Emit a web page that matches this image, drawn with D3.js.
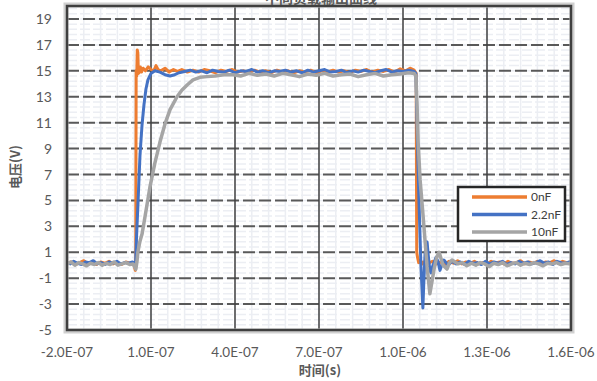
<!DOCTYPE html>
<html>
<head>
<meta charset="utf-8">
<script src="https://cdn.jsdelivr.net/npm/d3@7"></script>
<style>
body { margin: 0; background: #fff; }
</style>
</head>
<body>
<div id="chart"></div>
<script>
// time in ns, voltage in V
const xTicks = [-200, 100, 400, 700, 1000, 1300, 1600]
const yTicks = [-5, -3, -1, 1, 3, 5, 7, 9, 11, 13, 15, 17, 19]
const seriesNames = ["0nF", "2.2nF", "10nF"]

const t0 = [-200,-185,-170,-155,-140,-125,-110,-95,-80,-65,-50,-35,-20,-5,10,25,38,44,45.5,47,49,51,53,55,58,62,66,72,80,90,100,110,118,125,135,150,165,180,195,210,230,250,270,290,310,330,350,370,390,410,430,450,470,490,510,530,550,570,590,610,630,650,670,690,710,730,750,770,790,810,830,850,870,890,910,930,950,970,990,1010,1025,1040,1047,1049,1052,1056,1062,1070,1080,1090,1105,1120,1135,1150,1165,1180,1195,1210,1225,1240,1255,1270,1285,1300,1315,1330,1345,1360,1375,1390,1405,1420,1435,1450,1465,1480,1495,1510,1525,1540,1555,1570,1585,1600]
const v0 = [0.15,0.25,0.05,0.2,0.35,0.1,0.2,0.05,0.25,0.15,0.3,0.1,0.2,0.05,0.25,0.15,0.1,-0.4,0.3,15.0,14.6,16.6,16.4,14.8,14.9,15.3,14.9,15.2,15.0,15.3,15.1,15.0,15.4,15.1,15.0,15.2,14.9,15.1,14.95,15.1,14.9,15.05,14.9,15.1,15.0,14.85,15.05,14.95,15.1,14.9,15.0,14.85,15.05,14.9,15.0,14.85,15.05,14.9,15.0,14.85,15.0,14.9,15.05,14.85,15.0,14.9,15.05,14.9,15.0,14.85,15.05,14.95,15.1,14.9,15.05,14.95,15.1,14.9,15.15,15.0,15.2,15.05,14.8,1.0,0.6,0.2,0.4,0.1,0.35,0.15,0.3,0.1,0.25,0.05,0.3,0.15,0.35,0.1,0.25,0.15,0.3,0.1,0.2,0.05,0.3,0.15,0.25,0.1,0.3,0.15,0.2,0.35,0.1,0.25,0.15,0.3,0.1,0.25,0.2,0.35,0.15,0.3,0.2,0.25]

const t1 = [-200,-188,-176,-162,-148,-134,-120,-106,-92,-78,-64,-50,-36,-22,-8,6,20,34,45,48,53.6,60.7,67.9,75,82,89,100,114,132,150,168,185,200,220,240,260,280,300,320,340,360,380,400,420,440,460,480,500,520,540,560,580,600,620,640,660,680,700,720,740,760,780,800,820,840,860,880,900,920,940,960,980,1000,1020,1040,1046,1048,1051,1057,1064,1071,1074,1079,1086,1090,1096,1100,1107,1118,1125,1132,1140,1146,1161,1175,1190,1205,1220,1235,1250,1265,1280,1295,1310,1325,1340,1355,1370,1385,1400,1415,1430,1445,1460,1475,1490,1505,1520,1535,1550,1565,1580,1600]
const v1 = [0.2,0.1,0.3,0.15,0.05,0.25,0.2,0.35,0.1,0.2,0.05,0.25,0.15,0.3,0.1,0.2,0.15,0.25,0.1,2.0,4.8,8.5,10.8,12.4,13.6,14.3,14.8,15.0,14.9,14.7,14.6,14.7,14.85,14.95,15.05,14.9,15.0,14.85,15.05,14.95,14.9,15.05,14.85,15.0,14.95,15.1,14.9,15.0,14.85,15.0,14.95,15.05,14.9,15.0,14.85,15.05,14.9,15.0,15.1,14.9,14.95,15.05,14.85,15.0,14.9,15.05,14.95,14.85,15.0,15.1,14.9,15.0,14.95,15.05,14.95,14.8,13.0,10.0,5.0,0.0,-3.3,-1.5,1.0,1.8,0.8,-0.4,-0.6,0.0,0.6,0.3,-0.4,0.1,0.4,0.0,0.3,0.1,0.25,0.05,0.3,0.15,0.2,0.05,0.3,0.1,0.25,0.15,0.3,0.05,0.2,0.1,0.3,0.15,0.25,0.1,0.2,0.35,0.15,0.25,0.05,0.3,0.2,0.15,0.3]

const t2 = [-200,-186,-172,-158,-144,-130,-116,-102,-88,-74,-60,-46,-32,-18,-4,10,24,36,46,50,53,60,68,79,96,114,132,150,168,193,210,229,250,275,300,329,360,393,420,450,480,510,540,570,600,630,660,690,720,750,780,810,840,870,900,930,960,990,1020,1040,1046,1050,1054,1061,1071,1086,1096,1104,1111,1120,1129,1136,1143,1157,1166,1175,1196,1212,1228,1244,1260,1276,1292,1308,1324,1340,1356,1372,1388,1404,1420,1436,1452,1468,1484,1500,1516,1532,1548,1564,1580,1600]
const v2 = [0.1,0.25,0.0,0.2,0.1,-0.05,0.15,0.05,0.2,0.0,0.15,0.05,0.25,0.0,0.1,0.2,0.05,0.1,-0.3,0.3,1.0,1.8,2.4,3.8,6.0,7.9,9.5,10.9,12.0,13.0,13.5,13.9,14.3,14.5,14.55,14.6,14.7,14.7,14.6,14.8,14.65,14.75,14.6,14.8,14.7,14.55,14.75,14.65,14.8,14.6,14.7,14.75,14.55,14.7,14.8,14.6,14.7,14.75,14.85,14.8,14.6,12.5,9.5,6.6,4.0,-0.1,-2.2,-1.2,-0.3,0.6,1.0,0.5,0.0,-0.3,0.2,0.4,0.1,0.2,-0.05,0.15,0.0,0.2,0.1,-0.1,0.15,0.05,0.2,-0.05,0.1,0.2,0.0,0.15,0.05,0.2,0.1,-0.05,0.15,0.1,0.2,0.05,0.15,0.1]

const width = 597, height = 381
const pLeft = 67, pRight = 571, pTop = 6, pBottom = 330

const svg = d3.select("#chart")
  .append("svg")
  .attr("width", width)
  .attr("height", height)

const x = d3.scaleLinear().domain([-200, 1600]).range([pLeft, pRight])
const y = d3.scaleLinear().domain([-5, 20]).range([pBottom, pTop])

const color = d3.scaleOrdinal()
  .domain(seriesNames)
  .range(["#ED7D31", "#4472C4", "#A5A5A5"])

// minor grid
svg.append("g").selectAll("line")
  .data(d3.range(-5, 20, 0.4))
  .join("line")
  .attr("x1", pLeft).attr("x2", pRight)
  .attr("y1", d => y(d)).attr("y2", d => y(d))
  .attr("stroke", "#eceef3")
  .attr("stroke-width", 1.5)
  .attr("stroke-dasharray", "10,3")

svg.append("g").selectAll("line")
  .data(d3.range(-200, 1601, 60))
  .join("line")
  .attr("x1", d => x(d)).attr("x2", d => x(d))
  .attr("y1", pTop).attr("y2", pBottom)
  .attr("stroke", "#eceef3")
  .attr("stroke-width", 1.5)

// major grid
svg.append("g").selectAll("line")
  .data(yTicks)
  .join("line")
  .attr("x1", pLeft).attr("x2", pRight)
  .attr("y1", d => y(d)).attr("y2", d => y(d))
  .attr("stroke", "#595959")
  .attr("stroke-width", 2)
  .attr("stroke-dasharray", "12,4")

svg.append("g").selectAll("line")
  .data(xTicks)
  .join("line")
  .attr("x1", d => x(d)).attr("x2", d => x(d))
  .attr("y1", pTop).attr("y2", pBottom)
  .attr("stroke", "#404040")
  .attr("stroke-width", 1.5)

// lines
const series = [[t0, v0], [t1, v1], [t2, v2]]
const line = d3.line().x(d => x(d[0])).y(d => y(d[1]))

svg.append("g").selectAll("path")
  .data(series)
  .join("path")
  .attr("d", d => line(d3.zip(d[0], d[1])))
  .attr("fill", "none")
  .attr("stroke", (d, i) => color(seriesNames[i]))
  .attr("stroke-width", (d, i) => i == 2 ? 3.5 : 3)
  .attr("stroke-linejoin", "round")

// frame
svg.append("rect")
  .attr("x", pLeft - 1).attr("y", pTop - 1)
  .attr("width", pRight - pLeft + 2).attr("height", pBottom - pTop + 2)
  .attr("fill", "none")
  .attr("stroke", "#d0d0d0")
  .attr("stroke-width", 5)
svg.append("rect")
  .attr("x", pLeft).attr("y", pTop)
  .attr("width", pRight - pLeft).attr("height", pBottom - pTop)
  .attr("fill", "none")
  .attr("stroke", "#3f3f3f")
  .attr("stroke-width", 2.5)

// axes labels
const fmt = function(d) {
  var s = (d * 1e-9).toExponential(1).toUpperCase()
  return s.replace(/E([+-])(\d)$/, "E$10$2")
}

svg.append("g").selectAll("text")
  .data(xTicks)
  .join("text")
  .attr("x", d => x(d))
  .attr("y", 357)
  .attr("text-anchor", "middle")
  .style("font-family", "Lato, 'Noto Sans'")
  .style("font-size", "13.5px")
  .attr("fill", "#595959")
  .text(fmt)

svg.append("g").selectAll("text")
  .data(yTicks)
  .join("text")
  .attr("x", 52)
  .attr("y", d => y(d))
  .attr("dy", "0.36em")
  .attr("text-anchor", "end")
  .style("font-family", "Lato, 'Noto Sans'")
  .style("font-size", "14px")
  .attr("fill", "#595959")
  .text(d => d)

svg.append("text")
  .attr("x", 320).attr("y", 375)
  .attr("text-anchor", "middle")
  .style("font-family", "'Noto Sans CJK SC'")
  .style("font-size", "13px")
  .style("font-weight", "bold")
  .attr("fill", "#595959")
  .text("时间(s)")

svg.append("text")
  .attr("transform", "translate(20,167) rotate(-90)")
  .attr("text-anchor", "middle")
  .style("font-family", "'Noto Sans CJK SC'")
  .style("font-size", "13px")
  .style("font-weight", "bold")
  .attr("fill", "#595959")
  .text("电压(V)")

// title, cut off at top
svg.append("text")
  .attr("x", 321).attr("y", 3)
  .attr("text-anchor", "middle")
  .style("font-family", "'Noto Sans CJK SC'")
  .style("font-size", "14px")
  .style("font-weight", "bold")
  .attr("fill", "#595959")
  .text("不同负载输出曲线")

// legend
const lg = svg.append("g")
lg.append("rect")
  .attr("x", 458).attr("y", 187)
  .attr("width", 107).attr("height", 54)
  .attr("fill", "#fff")
  .attr("stroke", "#262626")
  .attr("stroke-width", 2.5)

lg.selectAll("line")
  .data(seriesNames)
  .join("line")
  .attr("x1", 472).attr("x2", 527)
  .attr("y1", (d, i) => 197 + i * 17.5)
  .attr("y2", (d, i) => 197 + i * 17.5)
  .attr("stroke", d => color(d))
  .attr("stroke-width", 3.5)

lg.selectAll("text")
  .data(seriesNames)
  .join("text")
  .attr("x", 531)
  .attr("y", (d, i) => 197 + i * 17.5)
  .attr("dy", "0.35em")
  .style("font-family", "Lato, 'Noto Sans'")
  .style("font-size", "12px")
  .attr("fill", "#404040")
  .text(d => d)
</script>
</body>
</html>
